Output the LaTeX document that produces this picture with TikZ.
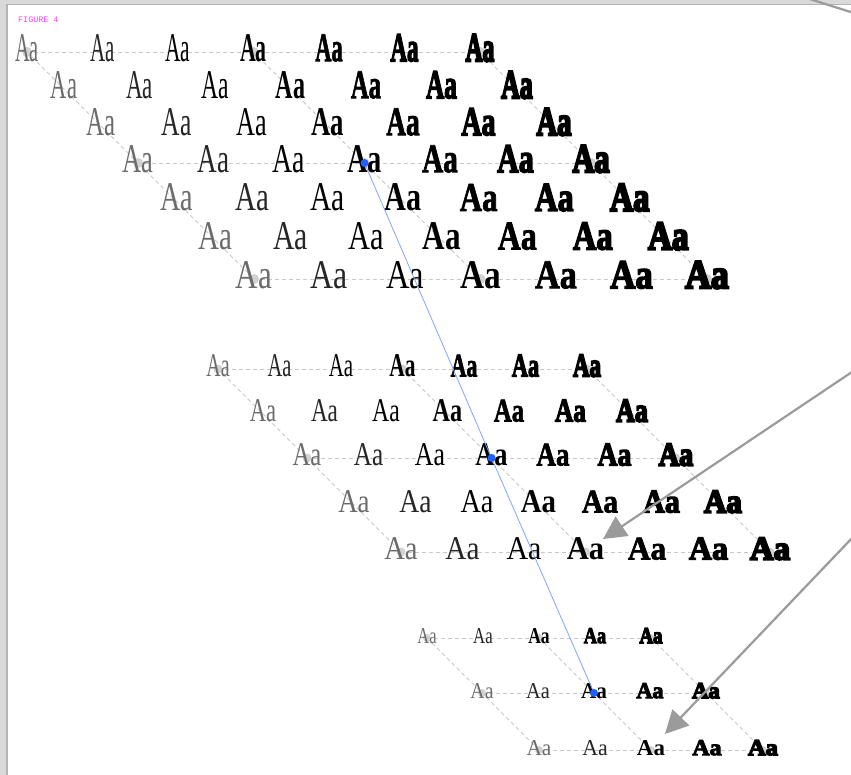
\documentclass[tikz,border=0pt]{standalone}
\usepackage{fontspec}
\usetikzlibrary{arrows.meta}
\setmainfont{Liberation Serif}
\newfontfamily\figmono{Liberation Mono}
\newfontfamily\wR{Liberation Serif}
\newfontfamily\wB{Liberation Serif Bold}
\newfontfamily\wBa{Liberation Serif Bold}[FakeBold=2]
\newfontfamily\wBb{Liberation Serif Bold}[FakeBold=4]
\newfontfamily\wBc{Liberation Serif Bold}[FakeBold=6]
\newcommand\setwt[1]{\ifcase#1 \wR\color{black!58}\or\wR\color{black!85}\or\wR\or\wB\or\wBa\or\wBb\or\wBc\fi}
\definecolor{framelight}{RGB}{217,217,217}
\definecolor{framedark}{RGB}{180,180,180}
\definecolor{gridgray}{RGB}{200,200,200}
\definecolor{dotgray}{RGB}{210,210,210}
\definecolor{arrowgray}{RGB}{155,155,155}
\definecolor{lineblue}{RGB}{130,165,255}
\definecolor{dotblue}{RGB}{30,95,255}
\definecolor{figmagenta}{RGB}{255,64,255}
\tikzset{
  gridline/.style={draw=gridgray, line width=0.8pt, dash pattern=on 4pt off 3pt},
  griddot/.style={fill=dotgray},
  glyphone/.style={inner sep=0pt, anchor=base, font=\fontsize{40.8}{40.8}\selectfont},
  glyphtwo/.style={inner sep=0pt, anchor=base, font=\fontsize{33.2}{33.2}\selectfont},
  glyphthree/.style={inner sep=0pt, anchor=base, font=\fontsize{22.7}{22.7}\selectfont},
  blueline/.style={draw=lineblue, line width=0.8pt},
  bluedot/.style={fill=dotblue},
  grayarrow/.style={draw=arrowgray, line width=2.2pt, -{Triangle[length=23pt,width=23pt]}},
  grayline/.style={draw=arrowgray, line width=2.2pt},
}
\begin{document}
\begin{tikzpicture}[x=1pt,y=-1pt]
\useasboundingbox (0,0) rectangle (851,775);
\clip (0,0) rectangle (851,775);
% frame
\fill[white] (0,0) rectangle (851,775);
\fill[framelight] (0,0) rectangle (851,4);
\fill[framelight] (0,0) rectangle (6,775);
\fill[framedark] (6,4) rectangle (851,5.5);
\fill[framedark] (6,4) rectangle (7.6,775);
\node[font=\figmono\fontsize{8.4}{8.4}\selectfont, text=figmagenta, anchor=base west, inner sep=0pt] (fig) at (18,22.5) {FIGURE 4};
% ---------- block 1 coordinates
\foreach \r/\yy in {0/52,1/89,2/126,3/163,4/201.7,5/240.3,6/279}{
  \foreach \c in {0,...,6}{
    \coordinate (p1-\r-\c) at ({27+(\yy-52)+\c*75.5},\yy);
  }
}
% ---------- block 2 coordinates
\foreach \r/\yy in {0/369,1/414,2/458,3/505,4/552}{
  \foreach \c in {0,...,6}{
    \coordinate (p2-\r-\c) at ({218+(\yy-369)+\c*61.5},\yy);
  }
}
% ---------- block 3 coordinates
\foreach \r/\yy in {0/638,1/693,2/750}{
  \foreach \c in {0,...,4}{
    \coordinate (p3-\r-\c) at ({427+(\yy-638)+\c*56},\yy);
  }
}
% grid lines
\foreach \r in {0,3,6}{\draw[gridline] (p1-\r-0) -- (p1-\r-6);}
\foreach \c in {0,3,6}{\draw[gridline] (p1-0-\c) -- (p1-6-\c);}
\foreach \r in {0,2,4}{\draw[gridline] (p2-\r-0) -- (p2-\r-6);}
\foreach \c in {0,3,6}{\draw[gridline] (p2-0-\c) -- (p2-4-\c);}
\foreach \r in {0,1,2}{\draw[gridline] (p3-\r-0) -- (p3-\r-4);}
\foreach \c in {0,2,4}{\draw[gridline] (p3-0-\c) -- (p3-2-\c);}
% grid dots
\foreach \r in {0,3,6}{\foreach \c in {0,3,6}{\fill[griddot] (p1-\r-\c) circle (5);}}
\foreach \r in {0,2,4}{\foreach \c in {0,3,6}{\fill[griddot] (p2-\r-\c) circle (4.5);}}
\foreach \r in {0,1,2}{\foreach \c in {0,2,4}{\fill[griddot] (p3-\r-\c) circle (4);}}
% glyphs
\foreach \r/\sx in {0/0.50,1/0.55,2/0.61,3/0.65,4/0.69,5/0.71,6/0.76}{
  \foreach \c in {0,...,6}{
    \pgfmathsetmacro\fx{\sx*(1+0.025*\c)}
    \node[glyphone, xscale=\fx, yshift=-9.2pt] (g1-\r-\c) at (p1-\r-\c) {\setwt{\c}Aa};
  }
}
\foreach \r/\sx in {0/0.60,1/0.68,2/0.74,3/0.81,4/0.86}{
  \foreach \c in {0,...,6}{
    \pgfmathsetmacro\fx{\sx*(1+0.025*\c)}
    \node[glyphtwo, xscale=\fx, yshift=-7.5pt] (g2-\r-\c) at (p2-\r-\c) {\setwt{\c}Aa};
  }
}
\foreach \r/\sx in {0/0.72,1/0.87,2/0.94}{
  \foreach \c/\w in {0/0,1/1,2/3,3/5,4/6}{
    \pgfmathsetmacro\fx{\sx*(1+0.025*\w)}
    \node[glyphthree, xscale=\fx, yshift=-5.1pt] (g3-\r-\c) at (p3-\r-\c) {\setwt{\w}Aa};
  }
}
% blue path
\draw[blueline] (p1-3-3) -- (p2-2-3) -- (p3-1-2);
\fill[bluedot] (p1-3-3) circle (4);
\fill[bluedot] (p2-2-3) circle (4);
\fill[bluedot] (p3-1-2) circle (4);
% gray arrows
\coordinate (a1s) at (925,323);
\coordinate (a1e) at (603,539);
\coordinate (a2s) at (907,480.5);
\coordinate (a2e) at (665,734);
\coordinate (a3s) at (800,-4);
\coordinate (a3e) at (900,27.6);
\draw[grayarrow] (a1s) -- (a1e);
\draw[grayarrow] (a2s) -- (a2e);
\draw[grayline] (a3s) -- (a3e);
\end{tikzpicture}
\end{document}
